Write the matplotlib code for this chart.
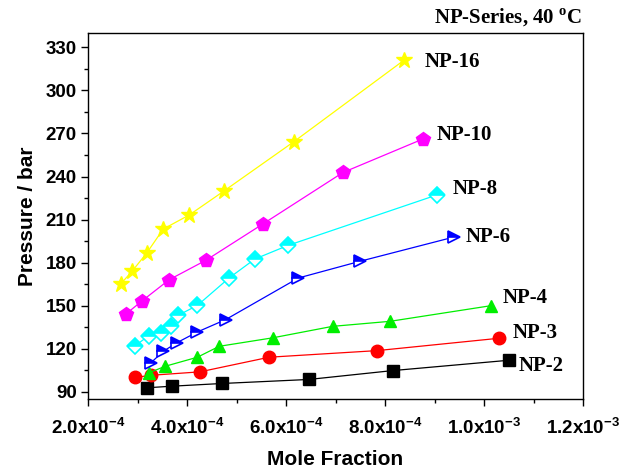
import matplotlib
matplotlib.use("Agg")
import matplotlib.pyplot as plt
from matplotlib.ticker import MultipleLocator, FuncFormatter

plt.rcParams['font.family'] = 'Liberation Sans'
plt.rcParams['font.weight'] = 'bold'
plt.rcParams['mathtext.fontset'] = 'custom'
plt.rcParams['mathtext.bf'] = 'Liberation Sans:bold'
plt.rcParams['mathtext.rm'] = 'Liberation Serif:bold'

# mole fraction (x1e-4) and pressure (bar)
np2_x = [3.19, 3.69, 4.71, 6.46, 8.16, 10.51]
np2_p = [92.8, 93.9, 95.8, 98.6, 104.8, 112.0]
np3_x = [2.95, 3.27, 4.26, 5.66, 7.84, 10.30]
np3_p = [100.0, 101.5, 103.9, 114.1, 118.7, 127.3]
np4_x = [3.23, 3.56, 4.21, 4.65, 5.73, 6.94, 8.10, 10.14]
np4_p = [103.2, 107.8, 114.1, 121.7, 127.6, 135.6, 139.1, 150.0]
np6_x = [3.27, 3.52, 3.79, 4.21, 4.78, 6.25, 7.49, 9.39]
np6_p = [110.2, 118.2, 124.1, 131.7, 140.3, 169.3, 180.9, 197.8]
np8_x = [2.95, 3.23, 3.48, 3.67, 3.82, 4.21, 4.85, 5.37, 6.04, 9.06]
np8_p = [122.0, 129.2, 131.3, 135.6, 143.3, 150.2, 169.3, 182.5, 192.0, 227.3]
np10_x = [2.77, 3.09, 3.64, 4.39, 5.54, 7.15, 8.77]
np10_p = [144.3, 153.3, 168.1, 181.8, 207.1, 242.8, 266.2]
np16_x = [2.66, 2.895, 3.186, 3.52, 4.05, 4.75, 6.16, 8.39]
np16_p = [165.1, 174.2, 186.7, 203.4, 213.3, 230.0, 264.3, 321.2]

labels = ['NP-2', 'NP-3', 'NP-4', 'NP-6', 'NP-8', 'NP-10', 'NP-16']
label_x = [10.69, 10.57, 10.37, 9.63, 9.37, 9.04, 8.81]
label_p = [107.8, 131.0, 155.6, 197.8, 231.2, 269.0, 320.0]

fig = plt.figure(figsize=(6.3, 4.72), dpi=100)
ax = fig.add_axes([0.1397, 0.1547, 0.7857, 0.7754])

series = [
    (np2_x, np2_p, 'black', 's', 8, 'full'),
    (np3_x, np3_p, 'red', 'o', 9, 'full'),
    (np4_x, np4_p, '#00ee00', '^', 9, 'full'),
    (np6_x, np6_p, 'blue', '>', 9, 'top'),
    (np8_x, np8_p, 'cyan', 'D', 8, 'top'),
    (np10_x, np10_p, 'magenta', 'p', 10, 'full'),
    (np16_x, np16_p, 'yellow', '*', 12, 'full'),
]
for xs, ps, c, m, ms, fs in series:
    xv = [v * 1e-4 for v in xs]
    if fs == 'full':
        ax.plot(xv, ps, color=c, lw=0.9, marker=m, ms=ms, mfc=c, mec=c)
    else:
        ax.plot(xv, ps, color=c, lw=0.9, marker=m, ms=ms, fillstyle=fs,
                mfc=c, mfcalt='white', mec=c, mew=1.2)

for lab, lx, lp in zip(labels, label_x, label_p):
    ax.text(lx * 1e-4, lp, lab, family='Liberation Serif', weight='bold',
            fontsize=15, ha='left', va='center')

ax.set_xlim(2e-4, 1.2e-3)
ax.set_ylim(85, 340)
ax.xaxis.set_major_locator(MultipleLocator(2e-4))
ax.xaxis.set_minor_locator(MultipleLocator(1e-4))
ax.yaxis.set_major_locator(MultipleLocator(30))
ax.yaxis.set_minor_locator(MultipleLocator(15))


def xfmt(v, pos):
    e = int(f"{v:e}".split('e')[1])
    m = v / 10 ** e
    return r'%.1fx10$^{\mathbf{%d}}$' % (m, e)


ax.xaxis.set_major_formatter(FuncFormatter(xfmt))
ax.tick_params(which='both', direction='out', top=False, right=False,
               labelsize=13.5)
ax.tick_params(which='major', length=5, width=1)
ax.tick_params(which='minor', length=3, width=1)
ax.tick_params(axis='y', pad=3)
ax.tick_params(axis='x', pad=8)

ax.set_xlabel('Mole Fraction', weight='bold', fontsize=15, labelpad=9)
ax.set_ylabel('Pressure / bar', weight='bold', fontsize=15, labelpad=6)
for s in ax.spines.values():
    s.set_linewidth(1)

fig.text(0.924, 0.962, r'NP-Series, 40 $^{\mathrm{o}}$C', family='Liberation Serif',
         weight='bold', fontsize=15, ha='right', va='center')

fig.savefig('out.png', dpi=100)
